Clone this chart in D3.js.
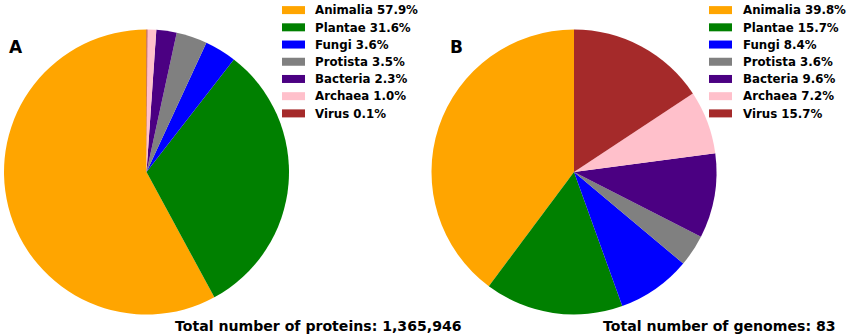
<!DOCTYPE html>
<html><head><meta charset="utf-8">
<script src="https://cdn.jsdelivr.net/npm/d3@7"></script>
<style>body{margin:0;background:#fff}svg{display:block}text{font-family:"DejaVu Sans",sans-serif;font-weight:bold}</style>
</head><body><svg id="c" width="850" height="335"></svg>
<script>
const categories = ["Animalia","Plantae","Fungi","Protista","Bacteria","Archaea","Virus"];
const colors = ["#FFA500","#008000","#0000FF","#808080","#4B0082","#FFC0CB","#A52A2A"];
const proteinPct = [57.9,31.6,3.6,3.5,2.3,1.0,0.1];
const genomePct = [39.8,15.7,8.4,3.6,9.6,7.2,15.7];
const panelLabels = ["A","B"];
const totals = ["Total number of proteins: 1,365,946","Total number of genomes: 83"];

const svg = d3.select("#c");
const color = d3.scaleOrdinal().domain(categories).range(colors);
const pie = d3.pie().sort(null).startAngle(0).endAngle(-2*Math.PI);
const R = 142.5;
const arc = d3.arc().innerRadius(0).outerRadius(R);

const panels = [
  {vals: proteinPct, cx: 146.5, cy: 172, lx: 282, tx: 315, labX: 9, totX: 175},
  {vals: genomePct, cx: 574, cy: 172, lx: 709, tx: 743, labX: 450, totX: 603}
];
panels.forEach((p,i)=>{
  const g = svg.append("g").attr("transform",`translate(${p.cx},${p.cy})`);
  g.selectAll("path").data(pie(p.vals)).join("path")
    .attr("d",arc).attr("fill",(d,j)=>color(categories[j]));
  svg.append("text").attr("x",p.labX).attr("y",53).attr("font-size",17).text(panelLabels[i]);
  svg.append("text").attr("x",p.totX).attr("y",331).attr("font-size",14.1).text(totals[i]);
  const y = d3.scaleBand().domain(categories).range([1.5,122]);
  const lg = svg.append("g");
  categories.forEach((c,j)=>{
    const yc = y(c)+y.bandwidth()/2;
    lg.append("rect").attr("x",p.lx).attr("y",yc-4).attr("width",23).attr("height",8).attr("fill",color(c));
    lg.append("text").attr("x",p.tx).attr("y",yc).attr("dy","0.36em").attr("font-size",11.8)
      .text(`${c} ${p.vals[j].toFixed(1)}%`);
  });
});
</script></body></html>
